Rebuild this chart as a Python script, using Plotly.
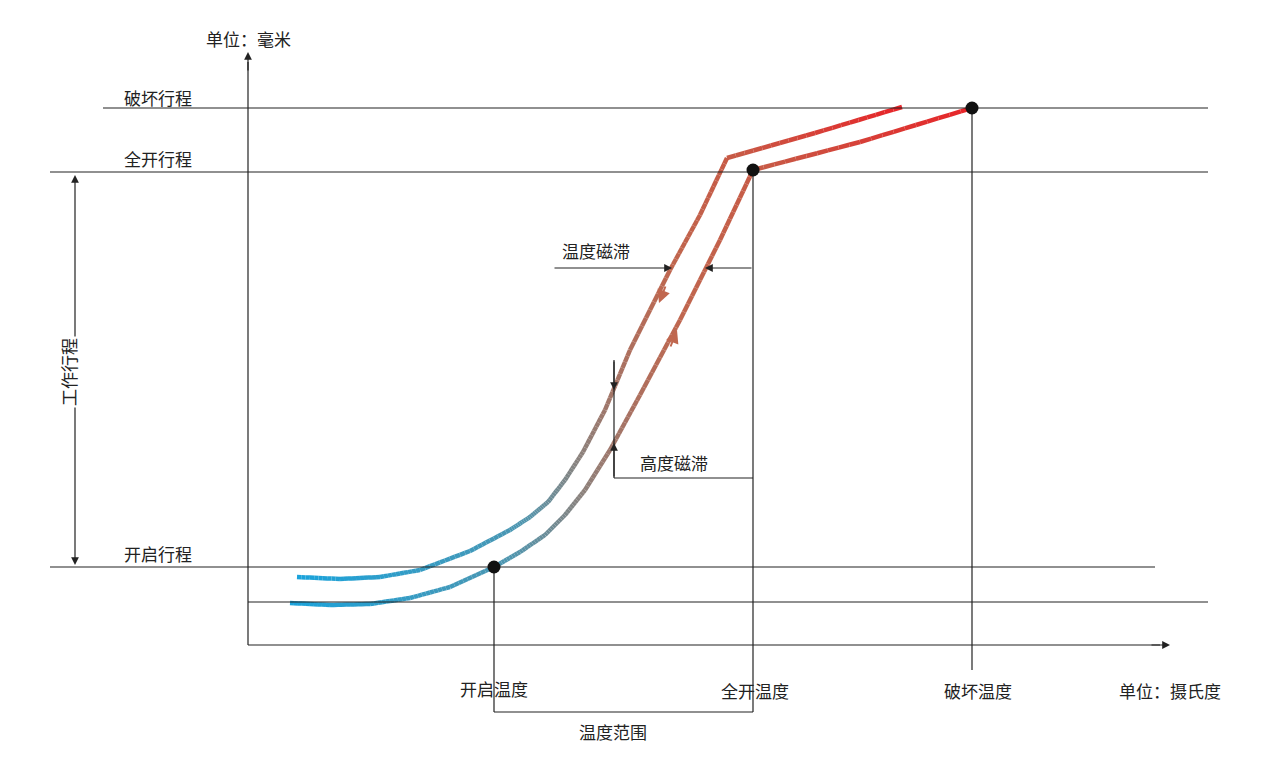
import plotly.graph_objects as go

# curve points (pixel-like units, y grows downward)
heat_x = [290, 330, 370, 410, 450, 494, 520, 545, 565, 585, 610, 640, 680, 720, 753, 860, 972]
heat_y = [603, 605, 604, 598, 587, 567, 552, 535, 515, 490, 450, 395, 320, 240, 170, 142, 108]
cool_x = [297, 340, 380, 420, 470, 510, 530, 548, 565, 583, 605, 630, 670, 700, 727, 815, 902]
cool_y = [577, 579, 577, 570, 551, 530, 517, 502, 480, 452, 410, 350, 270, 215, 158, 133, 107]

# colour stops along curve (by fraction)
stops = [(0.0, (27, 163, 219)), (0.35, (80, 150, 175)), (0.55, (140, 130, 125)),
         (0.75, (192, 103, 79)), (0.88, (200, 90, 70)), (1.0, (233, 35, 40))]

def col(t):
    for (t0, c0), (t1, c1) in zip(stops, stops[1:]):
        if t <= t1:
            f = (t - t0) / (t1 - t0)
            return "rgb(%d,%d,%d)" % tuple(int(a + (b - a) * f) for a, b in zip(c0, c1))
    return "rgb(233,35,40)"

def interp(xs, ys, n=10):
    px, py = [], []
    for i in range(len(xs) - 1):
        for k in range(n):
            f = k / n
            px.append(xs[i] + (xs[i+1] - xs[i]) * f)
            py.append(ys[i] + (ys[i+1] - ys[i]) * f)
    px.append(xs[-1]); py.append(ys[-1])
    return px, py

fig = go.Figure()
for xs, ys in [(heat_x, heat_y), (cool_x, cool_y)]:
    px, py = interp(xs, ys)
    m = len(px) - 1
    for i in range(m):
        fig.add_trace(go.Scatter(x=px[i:i+2], y=py[i:i+2], mode="lines",
                                 line=dict(color=col(i / m), width=4.5), hoverinfo="skip"))

# black guide lines (x0, y0, x1, y1)
guides = [(103, 108, 1208, 108), (50, 172, 1208, 172), (50, 567, 1155, 567),
          (248, 602, 1208, 602), (494, 567, 494, 712), (753, 170, 753, 712),
          (972, 108, 972, 670), (494, 712, 753, 712), (614, 360, 614, 478),
          (614, 478, 753, 478), (248, 645, 1160, 645), (248, 645, 248, 62)]
for x0, y0, x1, y1 in guides:
    fig.add_trace(go.Scatter(x=[x0, x1], y=[y0, y1], mode="lines",
                             line=dict(color="#222", width=1.2), hoverinfo="skip"))

dots_x = [494, 753, 972]
dots_y = [567, 170, 108]
fig.add_trace(go.Scatter(x=dots_x, y=dots_y, mode="markers",
                         marker=dict(color="#111", size=13), hoverinfo="skip"))

def arrow(x, y, ax, ay, color="#222", head=2, w=1.2):
    fig.add_annotation(x=x, y=y, ax=ax, ay=ay, xref="x", yref="y", axref="x", ayref="y",
                       showarrow=True, arrowhead=head, arrowsize=1.3, arrowwidth=w,
                       arrowcolor=color, text="")

arrow(1170, 645, 1150, 645)
arrow(248, 52, 248, 72)
arrow(75, 175, 75, 370)
arrow(75, 565, 75, 370)
arrow(672, 268, 553, 268)
arrow(705, 268, 753, 268)
arrow(614, 390, 614, 360)
arrow(614, 443, 614, 478)
arrow(659, 303, 666, 285, color="rgb(192,103,79)", w=2)
arrow(677, 330, 670, 348, color="rgb(192,103,79)", w=2)

labels = [("单位：毫米", 248, 38), ("破坏行程", 158, 97), ("全开行程", 158, 158),
          ("开启行程", 158, 553), ("开启温度", 494, 688), ("全开温度", 755, 690),
          ("破坏温度", 978, 690), ("单位：摄氏度", 1170, 690), ("温度范围", 613, 731),
          ("温度磁滞", 596, 250), ("高度磁滞", 674, 462)]
for t, x, y in labels:
    fig.add_annotation(x=x, y=y, text=t, showarrow=False, xref="x", yref="y",
                       font=dict(size=17, color="#222"))
fig.add_annotation(x=68, y=372, text="工作行程", textangle=-90, showarrow=False,
                   xref="x", yref="y", font=dict(size=17, color="#222"), bgcolor="white")

fig.update_layout(width=1281, height=771, margin=dict(l=0, r=0, t=0, b=0),
                  plot_bgcolor="white", paper_bgcolor="white", showlegend=False,
                  font=dict(family="Noto Sans CJK SC"),
                  xaxis=dict(range=[8, 1289], visible=False),
                  yaxis=dict(range=[779, 8], visible=False))
fig.write_html("out.html")
